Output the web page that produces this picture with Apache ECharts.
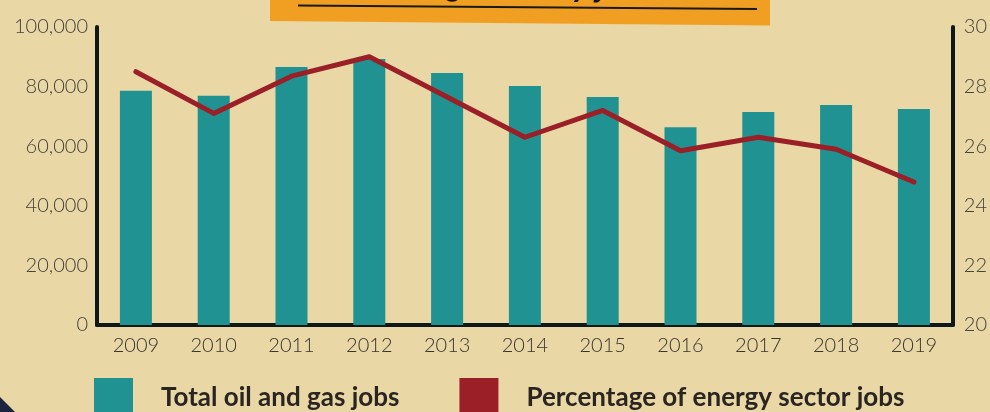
<!DOCTYPE html>
<html>
<head>
<meta charset="utf-8">
<script src="https://cdn.jsdelivr.net/npm/echarts@6/dist/echarts.min.js"></script>
<style>
  html, body { margin: 0; padding: 0; background: #e9d7a6; }
  #main { width: 990px; height: 412px; }
</style>
</head>
<body>
<div id="main"></div>
<script>
var years = ['2009', '2010', '2011', '2012', '2013', '2014', '2015', '2016', '2017', '2018', '2019'];
// total oil and gas jobs (left axis)
var totalJobs = [78600, 76900, 86600, 89300, 84600, 80200, 76500, 66400, 71500, 73800, 72500];
// share of energy sector jobs, % (right axis)
var energyShare = [28.5, 27.1, 28.35, 29.0, 27.65, 26.3, 27.2, 25.85, 26.3, 25.9, 24.8];

var seriesNames = ['Total oil and gas jobs', 'Percentage of energy sector jobs'];
var titleText = 'Declining industry job trend';

var chart = echarts.init(document.getElementById('main'));

var axisColor = '#0e1719';
var labelColor = '#45433b';
var font = 'Lato, "Open Sans", sans-serif';

chart.setOption({
  animation: false,
  backgroundColor: '#e9d7a6',
  grid: { left: 97, right: 37, top: 27, bottom: 87 },
  legend: {
    left: 94,
    top: 378,
    padding: 0,
    itemWidth: 39,
    itemHeight: 39,
    itemGap: 60,
    data: [
      { name: seriesNames[0], icon: 'rect' },
      { name: seriesNames[1], icon: 'rect' }
    ],
    textStyle: {
      fontFamily: font,
      fontSize: 26,
      fontWeight: 'bold',
      color: '#2a2521',
      padding: [0, 0, 0, 23]
    }
  },
  graphic: [
    {
      type: 'polygon',
      shape: { points: [[270, -5], [770, -5], [770, 25.5], [270, 21]] },
      style: { fill: '#f19f22' },
      z: 10
    },
    {
      type: 'text',
      x: 527,
      y: 2,
      rotation: -0.007,
      style: {
        text: titleText,
        fill: '#111',
        font: 'italic bold 34px Lato, sans-serif',
        align: 'center',
        verticalAlign: 'bottom'
      },
      z: 11
    },
    {
      type: 'line',
      shape: { x1: 298, y1: 5.5, x2: 757, y2: 9 },
      style: { stroke: '#1a1a1a', lineWidth: 2 },
      z: 12
    },
    {
      type: 'polygon',
      shape: { points: [[0, 397], [15, 412], [0, 412]] },
      style: { fill: '#1d2440' },
      z: 10
    }
  ],
  xAxis: {
    type: 'category',
    data: years,
    axisLine: { lineStyle: { color: axisColor, width: 4 } },
    axisTick: { show: false },
    axisLabel: { fontFamily: font, fontSize: 20, fontWeight: 300, color: '#38352f', margin: 11 }
  },
  yAxis: [
    {
      type: 'value',
      min: 0,
      max: 100000,
      interval: 20000,
      splitLine: { show: false },
      axisTick: { show: false },
      axisLine: { show: true, lineStyle: { color: axisColor, width: 4, cap: 'round' } },
      axisLabel: {
        fontFamily: font,
        fontSize: 20,
        fontWeight: 300,
        color: labelColor,
        margin: 9,
        formatter: function (v) { return v.toLocaleString('en-US'); }
      }
    },
    {
      type: 'value',
      position: 'right',
      min: 20,
      max: 30,
      interval: 2,
      splitLine: { show: false },
      axisTick: { show: false },
      axisLine: { show: true, lineStyle: { color: axisColor, width: 4, cap: 'round' } },
      axisLabel: { fontFamily: font, fontSize: 20, fontWeight: 300, color: labelColor, margin: 11 }
    }
  ],
  series: [
    {
      name: seriesNames[0],
      type: 'bar',
      data: totalJobs,
      barWidth: 32,
      itemStyle: { color: '#209292' }
    },
    {
      name: seriesNames[1],
      type: 'line',
      yAxisIndex: 1,
      data: energyShare,
      showSymbol: false,
      symbol: 'none',
      itemStyle: { color: '#9b1f27' },
      lineStyle: { color: '#9b1f27', width: 5, cap: 'round', join: 'round' }
    }
  ]
});
</script>
</body>
</html>
